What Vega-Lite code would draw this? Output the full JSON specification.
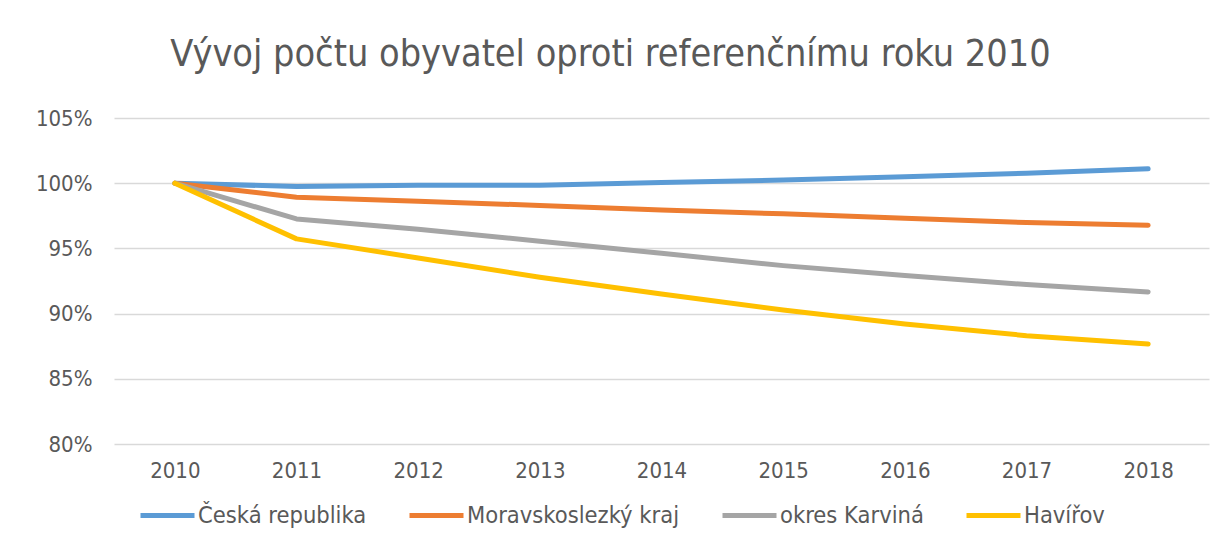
{
  "$schema": "https://vega.github.io/schema/vega-lite/v6.json",
  "autosize": "none",
  "padding": {"left": 114, "top": 118, "right": 3, "bottom": 102},
  "width": 1095,
  "height": 326,
  "background": "white",
  "config": {
    "font": "DejaVu Sans Condensed",
    "view": {"stroke": null}
  },
  "title": {
    "text": "Vývoj počtu obyvatel oproti referenčnímu roku 2010",
    "fontSize": 37.5,
    "fontWeight": "normal",
    "color": "#595959",
    "font": "DejaVu Sans Condensed",
    "anchor": "middle",
    "dx": -51,
    "offset": 34
  },
  "data": {
    "values": [
      {"rok": "2010", "oblast": "Česká republika", "podil": 1.0},
      {"rok": "2011", "oblast": "Česká republika", "podil": 0.9975},
      {"rok": "2012", "oblast": "Česká republika", "podil": 0.9985},
      {"rok": "2013", "oblast": "Česká republika", "podil": 0.9984},
      {"rok": "2014", "oblast": "Česká republika", "podil": 1.0005},
      {"rok": "2015", "oblast": "Česká republika", "podil": 1.0024},
      {"rok": "2016", "oblast": "Česká republika", "podil": 1.0049},
      {"rok": "2017", "oblast": "Česká republika", "podil": 1.0077},
      {"rok": "2018", "oblast": "Česká republika", "podil": 1.011},
      {"rok": "2010", "oblast": "Moravskoslezký kraj", "podil": 1.0},
      {"rok": "2011", "oblast": "Moravskoslezký kraj", "podil": 0.9893},
      {"rok": "2012", "oblast": "Moravskoslezký kraj", "podil": 0.9862},
      {"rok": "2013", "oblast": "Moravskoslezký kraj", "podil": 0.9829},
      {"rok": "2014", "oblast": "Moravskoslezký kraj", "podil": 0.9795},
      {"rok": "2015", "oblast": "Moravskoslezký kraj", "podil": 0.9765},
      {"rok": "2016", "oblast": "Moravskoslezký kraj", "podil": 0.9731},
      {"rok": "2017", "oblast": "Moravskoslezký kraj", "podil": 0.9698},
      {"rok": "2018", "oblast": "Moravskoslezký kraj", "podil": 0.9678},
      {"rok": "2010", "oblast": "okres Karviná", "podil": 1.0},
      {"rok": "2011", "oblast": "okres Karviná", "podil": 0.9726},
      {"rok": "2012", "oblast": "okres Karviná", "podil": 0.9647},
      {"rok": "2013", "oblast": "okres Karviná", "podil": 0.9555},
      {"rok": "2014", "oblast": "okres Karviná", "podil": 0.9462},
      {"rok": "2015", "oblast": "okres Karviná", "podil": 0.9368},
      {"rok": "2016", "oblast": "okres Karviná", "podil": 0.9292},
      {"rok": "2017", "oblast": "okres Karviná", "podil": 0.9223},
      {"rok": "2018", "oblast": "okres Karviná", "podil": 0.9166},
      {"rok": "2010", "oblast": "Havířov", "podil": 1.0},
      {"rok": "2011", "oblast": "Havířov", "podil": 0.9573},
      {"rok": "2012", "oblast": "Havířov", "podil": 0.9427},
      {"rok": "2013", "oblast": "Havířov", "podil": 0.9279},
      {"rok": "2014", "oblast": "Havířov", "podil": 0.915},
      {"rok": "2015", "oblast": "Havířov", "podil": 0.9028},
      {"rok": "2016", "oblast": "Havířov", "podil": 0.892},
      {"rok": "2017", "oblast": "Havířov", "podil": 0.8831},
      {"rok": "2018", "oblast": "Havířov", "podil": 0.8767}
    ]
  },
  "mark": {"type": "line", "strokeWidth": 5, "strokeCap": "round", "strokeJoin": "round"},
  "encoding": {
    "x": {
      "field": "rok",
      "type": "ordinal",
      "scale": {"type": "point", "padding": 0.5},
      "axis": {
        "title": null,
        "labelAngle": 0,
        "labelFontSize": 22,
        "labelColor": "#595959",
        "labelPadding": 16,
        "ticks": false,
        "domain": false,
        "grid": false
      }
    },
    "y": {
      "field": "podil",
      "type": "quantitative",
      "scale": {"domain": [0.8, 1.05], "nice": false, "zero": false},
      "axis": {
        "title": null,
        "values": [0.8, 0.85, 0.9, 0.95, 1.0, 1.05],
        "format": ".0%",
        "labelFontSize": 22,
        "labelColor": "#595959",
        "labelPadding": 22,
        "ticks": false,
        "domain": false,
        "grid": true,
        "gridColor": "#D9D9D9",
        "gridWidth": 1.5
      }
    },
    "color": {
      "field": "oblast",
      "type": "nominal",
      "scale": {
        "domain": ["Česká republika", "Moravskoslezký kraj", "okres Karviná", "Havířov"],
        "range": ["#5B9BD5", "#ED7D31", "#A5A5A5", "#FFC000"]
      },
      "legend": {
        "title": null,
        "orient": "none",
        "direction": "horizontal",
        "legendX": 24,
        "legendY": 368,
        "symbolType": "stroke",
        "symbolSize": 2916,
        "symbolStrokeWidth": 5,
        "labelOffset": 1,
        "columnPadding": 32,
        "labelFontSize": 23.5,
        "labelColor": "#595959",
        "labelLimit": 400
      }
    }
  }
}
